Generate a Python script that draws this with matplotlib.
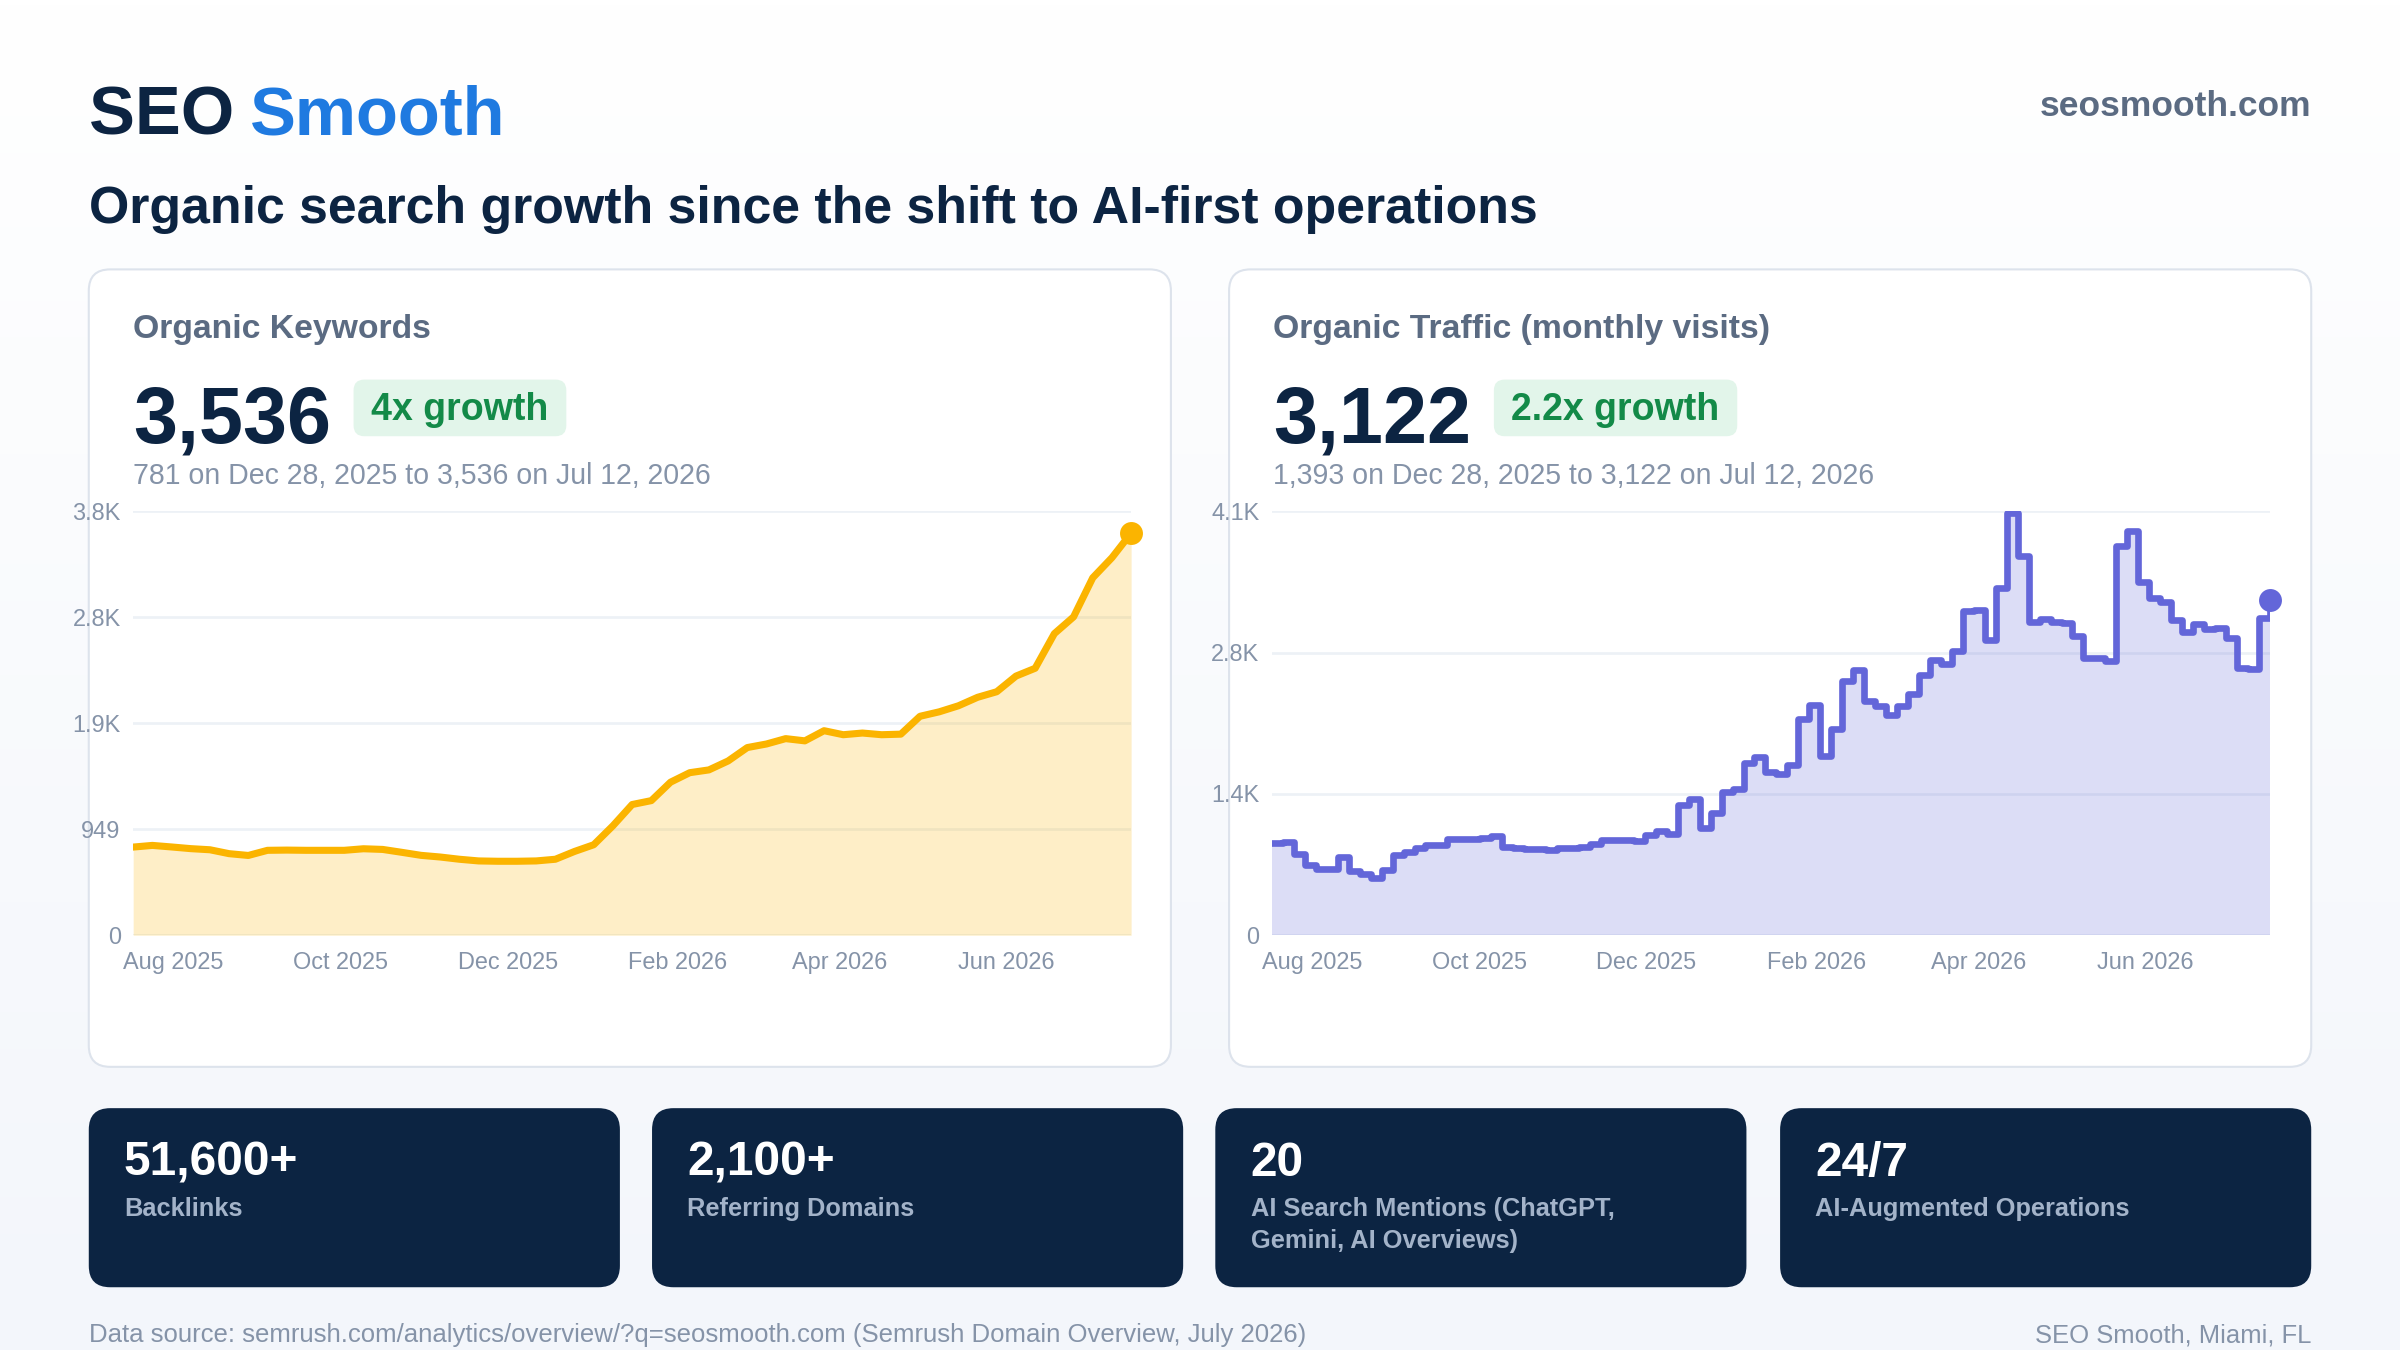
import numpy as np
import pandas as pd
import matplotlib
matplotlib.use("Agg")
import matplotlib.pyplot as plt
import matplotlib.dates as mdates
import matplotlib.transforms as mtransforms
from matplotlib.patches import FancyBboxPatch
from matplotlib.ticker import FuncFormatter
from matplotlib.colors import LinearSegmentedColormap

plt.rcParams['font.family'] = ['Liberation Sans', 'DejaVu Sans']

# ---- data ----
kw_dates = pd.date_range('2025-07-13', '2026-07-12', freq='7D')
kw_values = [789, 804, 790, 775, 765, 730, 714, 760, 762, 760,
             760, 760, 774, 768, 742, 715, 700, 680, 665, 662,
             662, 665, 680, 750, 810, 980, 1170, 1205, 1370, 1455,
             1480, 1560, 1680, 1712, 1760, 1740, 1831, 1795, 1810, 1795,
             1800, 1960, 2000, 2054, 2130, 2180, 2320, 2390, 2700, 2850,
             3200, 3380, 3600]

tr_dates = pd.date_range('2025-07-13', '2026-07-12', freq='4D')
tr_values = [900, 910, 790, 690, 648, 643, 760, 630, 600, 560,
             640, 785, 815, 855, 883, 883, 942, 942, 942, 945,
             965, 860, 850, 845, 838, 830, 850, 855, 860, 895,
             925, 925, 925, 920, 975, 1020, 990, 1270, 1330, 1050,
             1190, 1396, 1430, 1680, 1740, 1590, 1570, 1660, 2110, 2250,
             1750, 2010, 2480, 2590, 2290, 2240, 2150, 2240, 2360, 2540,
             2690, 2650, 2776, 3166, 3180, 2880, 3390, 4120, 3700, 3060,
             3090, 3060, 3050, 2920, 2711, 2711, 2680, 3800, 3950, 3450,
             3296, 3250, 3080, 2960, 3040, 2990, 3003, 2900, 2614, 2600,
             3100, 3270]

kw_headline = '3,536'
kw_growth = '4x growth'
kw_note = '781 on Dec 28, 2025 to 3,536 on Jul 12, 2026'
tr_headline = '3,122'
tr_growth = '2.2x growth'
tr_note = '1,393 on Dec 28, 2025 to 3,122 on Jul 12, 2026'

stat_values = ['51,600+', '2,100+', '20', '24/7']
stat_labels = ['Backlinks', 'Referring Domains',
               'AI Search Mentions (ChatGPT,\nGemini, AI Overviews)',
               'AI-Augmented Operations']

NAVY = '#0c2442'
GREY = '#5b6b82'
LIGHT = '#8593a8'
W, H = 1568, 882

fig = plt.figure(figsize=(16, 9), dpi=150)

# background layer in "layout units" (y down)
bg = fig.add_axes([0, 0, 1, 1], zorder=0)
grad = np.linspace(0, 1, 256).reshape(-1, 1)
cmap = LinearSegmentedColormap.from_list('bg', ['#ffffff', '#f3f6fb'])
bg.imshow(grad, extent=[0, W, H, 0], aspect='auto', cmap=cmap)
bg.set_xlim(0, W)
bg.set_ylim(H, 0)
bg.axis('off')

# header
t = bg.text(58, 88, 'SEO ', fontsize=33, fontweight='bold', color=NAVY, va='baseline')
fig.canvas.draw()
bb = t.get_window_extent().transformed(bg.transData.inverted())
bg.text(bb.x1 - 2, 88, 'Smooth', fontsize=33, fontweight='bold', color='#1f7ae0', va='baseline')
bg.text(1510, 76, 'seosmooth.com', fontsize=17, fontweight='bold', color=GREY,
        va='baseline', ha='right')
bg.text(58, 146, 'Organic search growth since the shift to AI-first operations',
        fontsize=24.9, fontweight='bold', color=NAVY, va='baseline')

# cards
cards = [
    (58, 'Organic Keywords', kw_headline, kw_growth, kw_note, 231, 139),
    (803, 'Organic Traffic (monthly visits)', tr_headline, tr_growth, tr_note, 976, 159),
]
for x0, title, num, growth, note, bx, bw in cards:
    bg.add_patch(FancyBboxPatch((x0, 176), 707, 521,
                                boxstyle='round,pad=0,rounding_size=14',
                                fc='white', ec='#dde3ec', lw=1.0))
    bg.text(x0 + 29, 221, title, fontsize=16.2, fontweight='bold', color=GREY, va='baseline')
    bg.text(x0 + 29, 289, num, fontsize=38, fontweight='bold', color=NAVY, va='baseline')
    bg.add_patch(FancyBboxPatch((bx, 248), bw, 37,
                                boxstyle='round,pad=0,rounding_size=7',
                                fc='#e2f5ea', ec='none'))
    bg.text(bx + bw / 2, 268, growth, fontsize=18, fontweight='bold', color='#138a48',
            ha='center', va='center')
    bg.text(x0 + 29, 316, note, fontsize=13.7, color=LIGHT, va='baseline')

# stat tiles
tile_x = [58, 426, 794, 1163]
for x0, val, lab in zip(tile_x, stat_values, stat_labels):
    bg.add_patch(FancyBboxPatch((x0, 724), 347, 117,
                                boxstyle='round,pad=0,rounding_size=14',
                                fc=NAVY, ec='none'))
    bg.text(x0 + 23, 768, val, fontsize=23, fontweight='bold', color='white', va='baseline')
    bg.text(x0 + 23, 782, lab, fontsize=12.2, fontweight='bold', color='#a3b3c9',
            va='top', linespacing=1.45)

# footer
bg.text(58, 877, 'Data source: semrush.com/analytics/overview/?q=seosmooth.com '
        '(Semrush Domain Overview, July 2026)', fontsize=12.35, color=LIGHT, va='baseline')
bg.text(1510, 877, 'SEO Smooth, Miami, FL', fontsize=12.3, color=LIGHT,
        va='baseline', ha='right')


def kfmt(v, pos):
    if v >= 1000:
        return f'{v / 1000:.1f}K'
    return f'{v:.0f}'


def draw_chart(ax, dates, values, color, ymax, nticks, stepped):
    ax.set_facecolor('none')
    if stepped:
        ax.fill_between(dates, values, step='post', color=color, alpha=0.22, lw=0, zorder=2)
        ax.plot(dates, values, drawstyle='steps-post', color=color, lw=3.2,
                solid_joinstyle='round', zorder=3)
    else:
        ax.fill_between(dates, values, color=color, alpha=0.22, lw=0, zorder=2)
        ax.plot(dates, values, color=color, lw=3.4, solid_joinstyle='round', zorder=3)
    ax.plot(dates[-1], values[-1], 'o', ms=10, color=color, clip_on=False, zorder=4)
    ax.set_xlim(dates[0], dates[-1])
    ax.set_ylim(0, ymax)
    ax.set_yticks(np.linspace(0, ymax, nticks))
    ax.yaxis.set_major_formatter(FuncFormatter(kfmt))
    ax.grid(axis='y', color='#edf1f6', lw=1.3, zorder=0)
    ax.set_axisbelow(True)
    ax.xaxis.set_major_locator(mdates.MonthLocator(bymonth=[2, 4, 6, 8, 10, 12]))
    ax.xaxis.set_major_formatter(mdates.DateFormatter('%b %Y'))
    ax.tick_params(axis='x', length=0, labelsize=11.3, labelcolor=LIGHT, pad=8)
    ax.tick_params(axis='y', length=0, labelsize=11.3, labelcolor=LIGHT, pad=6)
    shift = mtransforms.ScaledTranslation(-0.08, 0, fig.dpi_scale_trans)
    for lbl in ax.get_xticklabels():
        lbl.set_transform(lbl.get_transform() + shift)
    for s in ax.spines.values():
        s.set_visible(False)


ax1 = fig.add_axes([87 / W, 1 - 611 / H, 652 / W, 277 / H], zorder=2)
draw_chart(ax1, kw_dates, kw_values, '#fbb400', 3796, 5, False)

ax2 = fig.add_axes([831 / W, 1 - 611 / H, 652 / W, 277 / H], zorder=2)
draw_chart(ax2, tr_dates, tr_values, '#6366d9', 4140, 4, True)

fig.savefig('out.png', dpi=150)
